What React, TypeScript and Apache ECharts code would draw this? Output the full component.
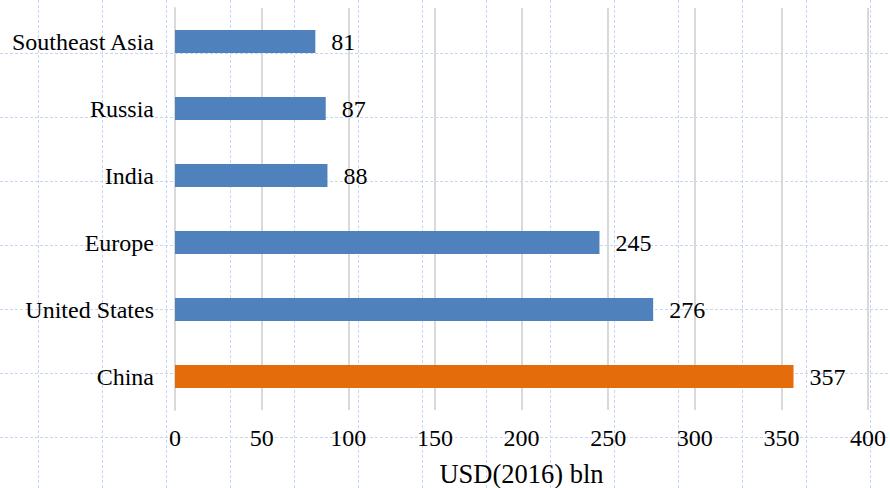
import React, { useEffect, useRef } from "react";
import * as echarts from "echarts";

const categories = ["Southeast Asia", "Russia", "India", "Europe", "United States", "China"];
const values = [81, 87, 88, 245, 276, 357];
const highlight = "China";
const xTicks = { min: 0, max: 400, interval: 50 };

const BLUE = "#4f81bd";
const ORANGE = "#e46c0a";
const FONT = "Liberation Serif";

function backgroundGrid(width: number, height: number) {
  const els: any[] = [];
  const style = { stroke: "#c5d5f7", lineWidth: 1, lineDash: [3, 2] };
  for (let x = 38; x < width; x += 64) {
    els.push({ type: "line", z: -10, silent: true, shape: { x1: x + 0.5, y1: 0, x2: x + 0.5, y2: height }, style });
  }
  for (let y = 53; y < height; y += 64) {
    els.push({ type: "line", z: -10, silent: true, shape: { x1: 0, y1: y + 0.5, x2: width, y2: y + 0.5 }, style });
  }
  return els;
}

export default function App() {
  const ref = useRef<HTMLDivElement>(null);
  useEffect(() => {
    if (!ref.current) return;
    const chart = echarts.init(ref.current, undefined, { renderer: "svg" });
    chart.setOption({
      animation: false,
      backgroundColor: "#ffffff",
      textStyle: { fontFamily: FONT },
      graphic: backgroundGrid(890, 488),
      grid: { left: 175, right: 22, top: 8, bottom: 78, containLabel: false, outerBoundsMode: "none" },
      xAxis: {
        type: "value",
        min: xTicks.min,
        max: xTicks.max,
        interval: xTicks.interval,
        name: "USD(2016) bln",
        nameLocation: "middle",
        nameGap: 50,
        nameTextStyle: { fontSize: 26.5, color: "#000", fontFamily: FONT },
        axisLine: { show: false },
        axisTick: { show: false },
        axisLabel: { fontSize: 24, color: "#000", margin: 16, fontFamily: FONT },
        splitLine: { show: true, lineStyle: { color: "#d9d9d9", width: 2 } },
      },
      yAxis: {
        type: "category",
        data: categories,
        inverse: true,
        axisLine: { show: true, lineStyle: { color: "#d9d9d9", width: 2 } },
        axisTick: { show: false },
        axisLabel: { fontSize: 24, color: "#000", margin: 21, fontFamily: FONT },
        splitLine: { show: false },
      },
      series: [
        {
          type: "bar",
          barWidth: 23,
          data: values.map((v, i) => ({
            value: v,
            itemStyle: { color: categories[i] === highlight ? ORANGE : BLUE },
          })),
          label: {
            show: true,
            position: "right",
            distance: 16,
            fontSize: 24,
            color: "#000",
            fontFamily: FONT,
          },
        },
      ],
    });
    return () => chart.dispose();
  }, []);
  return <div ref={ref} style={{ width: 890, height: 488, position: "absolute", left: 0, top: 0 }} />;
}
